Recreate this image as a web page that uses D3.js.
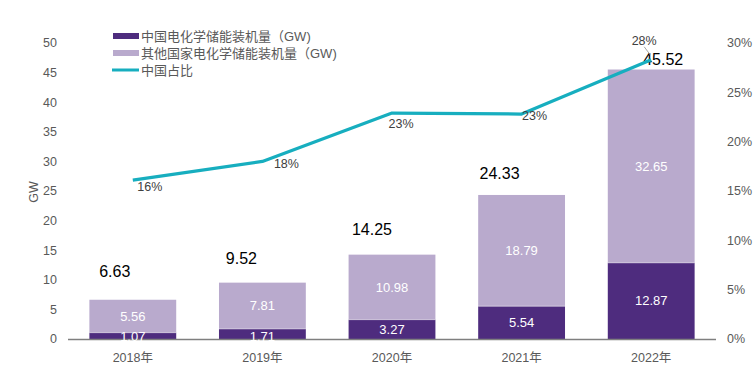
<!DOCTYPE html>
<html><head><meta charset="utf-8">
<script src="https://cdn.jsdelivr.net/npm/d3@7/dist/d3.min.js"></script>
<style>body{margin:0;background:#fff}svg{display:block;font-family:"Liberation Sans",Arial,"Noto Sans CJK SC",sans-serif}</style>
</head><body><svg id="c" width="753" height="372"></svg>
<script>
const years = ["2018年","2019年","2020年","2021年","2022年"];
const china = [1.07,1.71,3.27,5.54,12.87];
const others = [5.56,7.81,10.98,18.79,32.65];
const totals = [6.63,9.52,14.25,24.33,45.52];
const share = [0.161,0.180,0.229,0.228,0.283];
const shareLabels = ["16%","18%","23%","23%","28%"];
const leftTicks = [0,5,10,15,20,25,30,35,40,45,50];
const rightTicks = [0,0.05,0.10,0.15,0.20,0.25,0.30];
const seriesNames = ["中国电化学储能装机量（GW)","其他国家电化学储能装机量（GW)","中国占比"];

const C_DARK="#4E2C7E", C_LIGHT="#B9AACD", C_LINE="#17AEBF", C_TXT="#595959";
const svg=d3.select("#c");
const x=d3.scaleBand().domain(years).range([68,716]).paddingInner(0.33).paddingOuter(0.165);
const y=d3.scaleLinear().domain([0,50]).range([339,43]);
const y2=d3.scaleLinear().domain([0,0.30]).range([339,43]);
const cx=d=>x(d)+x.bandwidth()/2;

// left axis labels
svg.append("g").selectAll("text").data(leftTicks).join("text")
 .attr("x",57).attr("y",d=>y(d)).attr("dy","0.35em").attr("text-anchor","end")
 .attr("font-size",12.5).attr("fill",C_TXT).text(d=>d);
// right axis labels
svg.append("g").selectAll("text").data(rightTicks).join("text")
 .attr("x",727).attr("y",d=>y2(d)).attr("dy","0.35em").attr("text-anchor","start")
 .attr("font-size",12.5).attr("fill",C_TXT).text(d=>d3.format(".0%")(d));
// GW title
svg.append("text").attr("transform","translate(38,192) rotate(-90)").attr("text-anchor","middle")
 .attr("font-size",12.5).attr("fill",C_TXT).text("GW");

// bars
const g=svg.append("g");
g.selectAll("rect.o").data(years).join("rect").attr("class","o")
 .attr("x",d=>x(d)).attr("width",x.bandwidth())
 .attr("y",(d,i)=>y(china[i]+others[i])).attr("height",(d,i)=>y(china[i])-y(china[i]+others[i]))
 .attr("fill",C_LIGHT);
g.selectAll("rect.c").data(years).join("rect").attr("class","c")
 .attr("x",d=>x(d)).attr("width",x.bandwidth())
 .attr("y",(d,i)=>y(china[i])).attr("height",(d,i)=>y(0)-y(china[i]))
 .attr("fill",C_DARK);
// thin white separators
g.selectAll("line.s").data(years).join("line").attr("class","s")
 .attr("x1",d=>x(d)).attr("x2",d=>x(d)+x.bandwidth())
 .attr("y1",(d,i)=>y(china[i])).attr("y2",(d,i)=>y(china[i]))
 .attr("stroke","#fff").attr("stroke-opacity",0.5).attr("stroke-width",1);

// x axis line
svg.append("line").attr("x1",68).attr("x2",716).attr("y1",339.5).attr("y2",339.5).attr("stroke","#7f7f7f").attr("stroke-width",1.3);
// x labels
svg.append("g").selectAll("text").data(years).join("text")
 .attr("x",d=>cx(d)).attr("y",358).attr("dy","0.35em").attr("text-anchor","middle")
 .attr("font-size",12.5).attr("fill",C_TXT).text(d=>d);

// segment labels
svg.append("g").selectAll("text").data(years).join("text")
 .attr("x",d=>cx(d)).attr("y",(d,i)=>Math.max((y(0)+y(china[i]))/2,335)).attr("dy","0.35em")
 .attr("text-anchor","middle").attr("font-size",13).attr("fill","#fff").text((d,i)=>china[i].toFixed(2))
 .attr("y",(d,i)=>i<2?336:(y(0)+y(china[i]))/2);
svg.append("g").selectAll("text").data(years).join("text")
 .attr("x",d=>cx(d)).attr("y",(d,i)=>(y(china[i])+y(china[i]+others[i]))/2).attr("dy","0.35em")
 .attr("text-anchor","middle").attr("font-size",13).attr("fill","#fff").text((d,i)=>others[i].toFixed(2));

// total labels
const tdx=[-18,-21,-20,-22,12], tdy=[-28,-24,-25,-22,-10];
svg.append("g").selectAll("text").data(years).join("text")
 .attr("x",(d,i)=>cx(d)+tdx[i]).attr("y",(d,i)=>y(totals[i])+tdy[i]).attr("dy","0.35em")
 .attr("text-anchor","middle").attr("font-size",16).attr("fill","#000").text((d,i)=>totals[i].toFixed(2));

// line
const line=d3.line().x((d,i)=>cx(years[i])).y(d=>y2(d));
svg.append("path").datum(share).attr("d",line).attr("fill","none").attr("stroke",C_LINE).attr("stroke-width",3.2).attr("stroke-linejoin","round");
// line labels
const ldx=[17,24,9,13,-7], ldy=[6,2,11,2,-19];
svg.append("g").selectAll("text").data(share).join("text")
 .attr("x",(d,i)=>cx(years[i])+ldx[i]).attr("y",(d,i)=>y2(d)+ldy[i]).attr("dy","0.35em")
 .attr("text-anchor","middle").attr("font-size",12.5).attr("fill","#404040").text((d,i)=>shareLabels[i]);
// leader line for last label
svg.append("line").attr("x1",cx(years[4])-7).attr("y1",y2(share[4])-13).attr("x2",cx(years[4])-1).attr("y2",y2(share[4])-5)
 .attr("stroke","#a6a6a6").attr("stroke-width",1);

// legend
const lg=svg.append("g");
const ly=[36,53,70];
lg.append("rect").attr("x",113).attr("y",ly[0]-3).attr("width",26).attr("height",6).attr("fill",C_DARK);
lg.append("rect").attr("x",113).attr("y",ly[1]-3).attr("width",26).attr("height",6).attr("fill",C_LIGHT);
lg.append("line").attr("x1",112).attr("x2",139).attr("y1",ly[2]).attr("y2",ly[2]).attr("stroke",C_LINE).attr("stroke-width",3);
lg.selectAll("text").data(seriesNames).join("text")
 .attr("x",141).attr("y",(d,i)=>ly[i]).attr("dy","0.35em").attr("font-size",13).attr("fill",C_TXT).text(d=>d);
</script></body></html>
